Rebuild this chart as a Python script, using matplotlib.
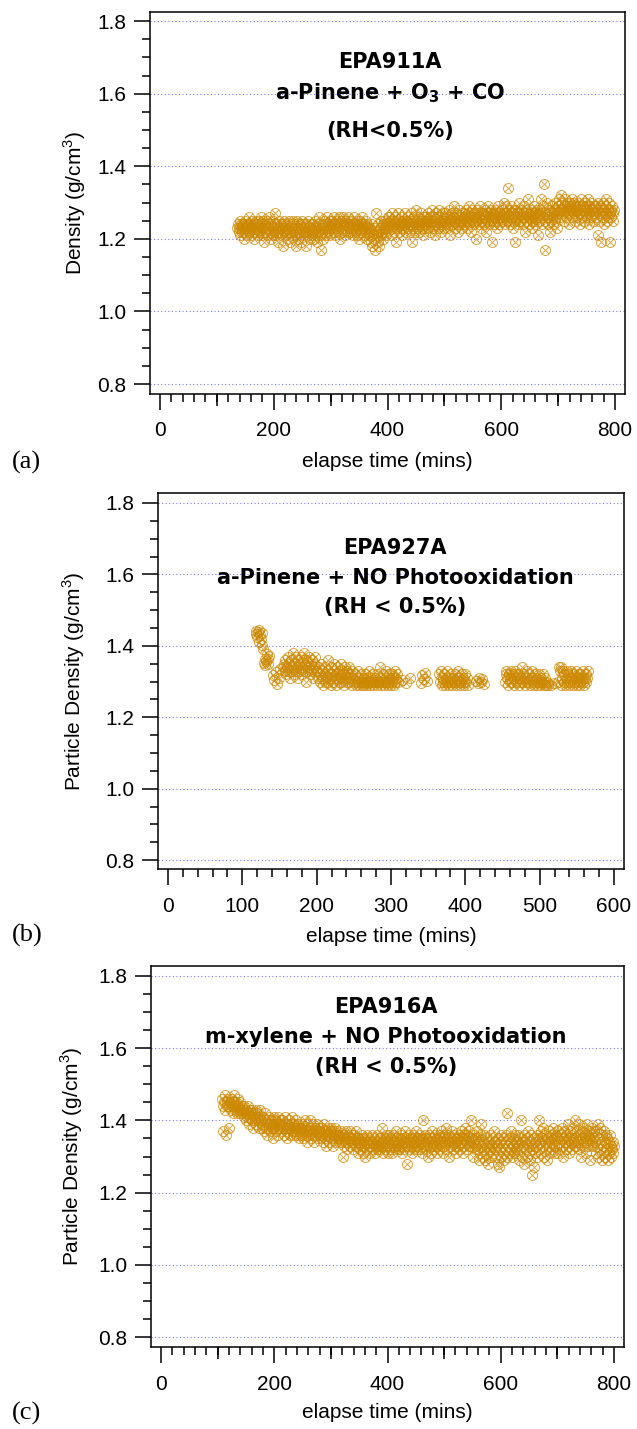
import numpy as np
import matplotlib.pyplot as plt
from matplotlib.path import Path
from matplotlib.ticker import MultipleLocator, FixedLocator, NullLocator, FormatStrFormatter

plt.rcParams['font.family'] = 'Liberation Sans'
plt.rcParams['mathtext.fontset'] = 'custom'
plt.rcParams['mathtext.rm'] = 'Liberation Sans'
plt.rcParams['mathtext.bf'] = 'DejaVu Sans:bold'

# ---- data ----
# (a) EPA911A, even sampling between first and last point
a_t0, a_t1 = 136, 798
a_density = [
    1.23, 1.24, 1.22, 1.23, 1.25, 1.21, 1.24, 1.23, 1.22, 1.24, 1.20, 1.23, 1.25, 1.22, 1.24, 1.23, 1.21, 1.24, 1.26, 1.22, 1.23, 1.24, 1.21, 1.25, 1.23, 1.22, 1.24, 1.20, 1.23, 1.25,
    1.22, 1.24, 1.23, 1.21, 1.25, 1.23, 1.22, 1.26, 1.24, 1.21, 1.23, 1.25, 1.22, 1.19, 1.24, 1.23, 1.22, 1.25, 1.21, 1.24, 1.23, 1.26, 1.22, 1.20, 1.24, 1.23, 1.21, 1.25, 1.22, 1.24,
    1.27, 1.23, 1.21, 1.24, 1.22, 1.19, 1.25, 1.23, 1.22, 1.24, 1.21, 1.23, 1.18, 1.24, 1.22, 1.25, 1.23, 1.21, 1.24, 1.22, 1.20, 1.23, 1.25, 1.22, 1.19, 1.24, 1.23, 1.21, 1.25, 1.22,
    1.23, 1.21, 1.24, 1.18, 1.22, 1.25, 1.23, 1.20, 1.22, 1.24, 1.21, 1.23, 1.19, 1.25, 1.22, 1.24, 1.21, 1.23, 1.22, 1.18, 1.24, 1.22, 1.25, 1.21, 1.23, 1.20, 1.24, 1.22, 1.23, 1.21,
    1.24, 1.22, 1.20, 1.23, 1.25, 1.21, 1.23, 1.19, 1.24, 1.22, 1.26, 1.23, 1.21, 1.17, 1.24, 1.22, 1.23, 1.20, 1.25, 1.22, 1.24, 1.21, 1.23, 1.26, 1.22, 1.24, 1.23, 1.21, 1.25, 1.24,
    1.25, 1.23, 1.24, 1.22, 1.26, 1.24, 1.21, 1.23, 1.25, 1.24, 1.22, 1.26, 1.23, 1.20, 1.24, 1.25, 1.23, 1.22, 1.26, 1.24, 1.23, 1.21, 1.25, 1.24, 1.22, 1.24, 1.26, 1.23, 1.25, 1.22,
    1.24, 1.22, 1.25, 1.23, 1.21, 1.24, 1.26, 1.23, 1.22, 1.24, 1.25, 1.21, 1.23, 1.24, 1.20, 1.25, 1.23, 1.22, 1.24, 1.26, 1.23, 1.21, 1.24, 1.22, 1.25, 1.23, 1.24, 1.20, 1.23, 1.22,
    1.21, 1.23, 1.19, 1.22, 1.18, 1.24, 1.21, 1.20, 1.23, 1.17, 1.22, 1.27, 1.21, 1.19, 1.24, 1.22, 1.18, 1.23, 1.25, 1.21, 1.22, 1.24, 1.20, 1.23, 1.25, 1.22, 1.24, 1.21, 1.23, 1.26,
    1.24, 1.26, 1.23, 1.25, 1.21, 1.24, 1.27, 1.23, 1.25, 1.22, 1.24, 1.26, 1.19, 1.25, 1.23, 1.24, 1.27, 1.22, 1.25, 1.24, 1.23, 1.26, 1.21, 1.24, 1.25, 1.23, 1.27, 1.24, 1.22, 1.25,
    1.25, 1.23, 1.26, 1.24, 1.22, 1.25, 1.27, 1.24, 1.19, 1.25, 1.23, 1.26, 1.24, 1.22, 1.25, 1.28, 1.23, 1.24, 1.26, 1.22, 1.25, 1.24, 1.27, 1.23, 1.25, 1.21, 1.24, 1.26, 1.25, 1.23,
    1.26, 1.24, 1.25, 1.23, 1.27, 1.25, 1.22, 1.26, 1.24, 1.28, 1.25, 1.23, 1.26, 1.24, 1.21, 1.25, 1.27, 1.24, 1.26, 1.23, 1.25, 1.28, 1.24, 1.26, 1.22, 1.25, 1.24, 1.27, 1.25, 1.23,
    1.25, 1.27, 1.24, 1.26, 1.23, 1.25, 1.28, 1.24, 1.26, 1.21, 1.25, 1.27, 1.24, 1.26, 1.25, 1.29, 1.23, 1.25, 1.27, 1.24, 1.26, 1.22, 1.25, 1.28, 1.24, 1.26, 1.25, 1.23, 1.27, 1.25,
    1.26, 1.24, 1.27, 1.25, 1.28, 1.23, 1.26, 1.25, 1.29, 1.24, 1.26, 1.27, 1.22, 1.25, 1.28, 1.26, 1.24, 1.27, 1.25, 1.20, 1.26, 1.28, 1.25, 1.27, 1.24, 1.26, 1.29, 1.25, 1.23, 1.27,
    1.25, 1.27, 1.26, 1.24, 1.28, 1.26, 1.22, 1.27, 1.25, 1.29, 1.26, 1.24, 1.27, 1.25, 1.28, 1.19, 1.26, 1.27, 1.25, 1.24, 1.28, 1.26, 1.27, 1.23, 1.25, 1.29, 1.26, 1.24, 1.27, 1.26,
    1.26, 1.28, 1.25, 1.27, 1.30, 1.26, 1.24, 1.27, 1.29, 1.25, 1.34, 1.26, 1.28, 1.24, 1.27, 1.25, 1.29, 1.26, 1.23, 1.27, 1.28, 1.19, 1.26, 1.25, 1.28, 1.27, 1.24, 1.26, 1.30, 1.25,
    1.27, 1.25, 1.28, 1.26, 1.24, 1.27, 1.29, 1.26, 1.22, 1.27, 1.25, 1.28, 1.26, 1.31, 1.24, 1.27, 1.26, 1.28, 1.25, 1.23, 1.27, 1.26, 1.29, 1.25, 1.27, 1.24, 1.28, 1.26, 1.21, 1.27,
    1.26, 1.28, 1.25, 1.31, 1.27, 1.24, 1.26, 1.29, 1.35, 1.25, 1.17, 1.27, 1.26, 1.30, 1.24, 1.28, 1.26, 1.22, 1.27, 1.25, 1.29, 1.26, 1.24, 1.28, 1.27, 1.25, 1.30, 1.26, 1.23, 1.28,
    1.29, 1.27, 1.31, 1.28, 1.26, 1.32, 1.28, 1.30, 1.27, 1.25, 1.29, 1.31, 1.28, 1.26, 1.30, 1.27, 1.29, 1.24, 1.28, 1.30, 1.27, 1.29, 1.26, 1.31, 1.28, 1.27, 1.30, 1.25, 1.28, 1.29,
    1.28, 1.26, 1.30, 1.27, 1.29, 1.24, 1.28, 1.31, 1.27, 1.26, 1.29, 1.28, 1.25, 1.30, 1.27, 1.29, 1.26, 1.28, 1.31, 1.27, 1.24, 1.29, 1.28, 1.26, 1.30, 1.27, 1.28, 1.25, 1.29, 1.27,
    1.29, 1.26, 1.28, 1.21, 1.30, 1.27, 1.25, 1.29, 1.28, 1.19, 1.27, 1.30, 1.26, 1.28, 1.24, 1.29, 1.31, 1.27, 1.25, 1.28, 1.26, 1.30, 1.27, 1.19, 1.28, 1.26, 1.29, 1.27, 1.25, 1.28,
]

# (b) EPA927A, measured in separate bursts
b_start = [118, 128, 141, 155, 201, 251, 315, 340, 365, 415, 453, 515, 525]
b_end = [127, 136, 151, 199, 249, 309, 326, 348, 403, 425, 511, 519, 565]
b_density = [
    [1.432, 1.441, 1.425, 1.438, 1.412, 1.444, 1.429, 1.418, 1.435, 1.402],
    [1.391, 1.352, 1.364, 1.345, 1.357, 1.378, 1.349, 1.362, 1.371],
    [1.318, 1.305, 1.327, 1.292, 1.311, 1.334],
    [1.34, 1.35, 1.33, 1.36, 1.32, 1.34, 1.37, 1.33, 1.35, 1.31, 1.34, 1.36, 1.33, 1.38, 1.34, 1.32, 1.35, 1.37, 1.33, 1.34, 1.36, 1.31, 1.35,
     1.33, 1.37, 1.34, 1.32, 1.36, 1.38, 1.33, 1.35, 1.34, 1.30, 1.36, 1.33, 1.37, 1.34, 1.32, 1.35, 1.36, 1.33, 1.31, 1.35, 1.34, 1.37, 1.33],
    [1.33, 1.31, 1.34, 1.30, 1.32, 1.35, 1.31, 1.29, 1.33, 1.32, 1.30, 1.34, 1.31, 1.33, 1.36, 1.30, 1.32, 1.31, 1.34, 1.29, 1.32, 1.33, 1.30, 1.35, 1.31,
     1.32, 1.29, 1.34, 1.31, 1.33, 1.30, 1.32, 1.35, 1.31, 1.30, 1.33, 1.32, 1.29, 1.34, 1.31, 1.33, 1.30, 1.32, 1.31, 1.34, 1.30, 1.32, 1.33, 1.29, 1.31],
    [1.30, 1.32, 1.29, 1.31, 1.30, 1.33, 1.29, 1.31, 1.30, 1.32, 1.29, 1.30, 1.31, 1.29, 1.32, 1.30, 1.31, 1.29, 1.30, 1.33, 1.30, 1.29, 1.31, 1.30, 1.32, 1.29, 1.30, 1.31, 1.30,
     1.29, 1.32, 1.30, 1.31, 1.34, 1.30, 1.29, 1.31, 1.30, 1.32, 1.29, 1.30, 1.33, 1.31, 1.30, 1.29, 1.32, 1.30, 1.31, 1.29, 1.30, 1.32, 1.31, 1.29, 1.33, 1.30, 1.31, 1.32, 1.30],
    [1.304, 1.297, 1.311],
    [1.296, 1.318, 1.307, 1.325, 1.302],
    [1.32, 1.30, 1.33, 1.29, 1.31, 1.30, 1.32, 1.29, 1.31, 1.30, 1.33, 1.30, 1.29, 1.31, 1.30, 1.32, 1.29, 1.31,
     1.30, 1.32, 1.30, 1.29, 1.31, 1.33, 1.30, 1.31, 1.29, 1.30, 1.32, 1.31, 1.29, 1.30, 1.32, 1.30, 1.31, 1.29],
    [1.302, 1.295, 1.309, 1.298, 1.306, 1.293],
    [1.30, 1.32, 1.33, 1.31, 1.29, 1.32, 1.30, 1.31, 1.33, 1.30, 1.32, 1.29, 1.31, 1.33, 1.30, 1.32, 1.31, 1.29, 1.32, 1.30, 1.31, 1.34, 1.30, 1.32, 1.31, 1.29, 1.30,
     1.33, 1.31, 1.30, 1.32, 1.29, 1.31, 1.33, 1.30, 1.31, 1.29, 1.32, 1.30, 1.31, 1.29, 1.30, 1.32, 1.30, 1.29, 1.31, 1.30, 1.32, 1.29, 1.30, 1.31, 1.29, 1.30, 1.29],
    [1.291, 1.297],
    [1.30, 1.34, 1.33, 1.34, 1.29, 1.31, 1.33, 1.30, 1.32, 1.29, 1.31, 1.33, 1.30, 1.32, 1.29, 1.31, 1.30, 1.33, 1.31, 1.29,
     1.32, 1.30, 1.31, 1.33, 1.29, 1.30, 1.32, 1.31, 1.29, 1.30, 1.32, 1.31, 1.30, 1.33, 1.29, 1.31, 1.32, 1.30, 1.31, 1.33],
]

# (c) EPA916A
c_t0, c_t1 = 108, 800
c_density = [
    1.46, 1.44, 1.37, 1.45, 1.47, 1.43, 1.36, 1.45, 1.44, 1.46, 1.38, 1.44, 1.45, 1.43, 1.46, 1.44, 1.42, 1.45, 1.47, 1.43, 1.44, 1.45, 1.42, 1.44, 1.46, 1.43, 1.44, 1.42, 1.45, 1.43,
    1.44, 1.42, 1.43, 1.41, 1.44, 1.42, 1.40, 1.43, 1.41, 1.44, 1.42, 1.39, 1.43, 1.41, 1.42, 1.40, 1.43, 1.38, 1.41, 1.42, 1.40, 1.43, 1.39, 1.41, 1.42, 1.40, 1.38, 1.41, 1.43, 1.40,
    1.40, 1.38, 1.41, 1.39, 1.37, 1.40, 1.42, 1.38, 1.39, 1.36, 1.40, 1.38, 1.41, 1.39, 1.37, 1.40, 1.38, 1.35, 1.39, 1.41, 1.38, 1.40, 1.37, 1.39, 1.38, 1.41, 1.36, 1.39, 1.40, 1.38,
    1.39, 1.37, 1.40, 1.38, 1.36, 1.39, 1.41, 1.37, 1.38, 1.35, 1.39, 1.38, 1.40, 1.36, 1.38, 1.39, 1.37, 1.41, 1.38, 1.36, 1.39, 1.37, 1.38, 1.40, 1.36, 1.38, 1.39, 1.37, 1.35, 1.38,
    1.38, 1.36, 1.39, 1.37, 1.35, 1.38, 1.40, 1.36, 1.37, 1.39, 1.34, 1.37, 1.38, 1.36, 1.40, 1.37, 1.35, 1.38, 1.36, 1.39, 1.37, 1.34, 1.38, 1.36, 1.37, 1.39, 1.35, 1.37, 1.38, 1.36,
    1.37, 1.35, 1.38, 1.36, 1.34, 1.37, 1.39, 1.35, 1.36, 1.33, 1.37, 1.36, 1.38, 1.34, 1.36, 1.37, 1.35, 1.38, 1.36, 1.33, 1.37, 1.35, 1.36, 1.38, 1.34, 1.36, 1.37, 1.35, 1.36, 1.34,
    1.35, 1.37, 1.34, 1.36, 1.30, 1.35, 1.33, 1.36, 1.34, 1.37, 1.35, 1.32, 1.36, 1.34, 1.35, 1.33, 1.37, 1.34, 1.36, 1.35, 1.32, 1.34, 1.36, 1.33, 1.35, 1.37, 1.34, 1.31, 1.35, 1.34,
    1.34, 1.32, 1.35, 1.33, 1.36, 1.31, 1.34, 1.33, 1.35, 1.30, 1.34, 1.36, 1.32, 1.34, 1.33, 1.35, 1.31, 1.34, 1.33, 1.36, 1.32, 1.34, 1.35, 1.31, 1.33, 1.34, 1.36, 1.32, 1.33, 1.35,
    1.33, 1.35, 1.32, 1.34, 1.38, 1.33, 1.31, 1.35, 1.34, 1.32, 1.36, 1.33, 1.35, 1.31, 1.34, 1.36, 1.32, 1.33, 1.35, 1.34, 1.31, 1.36, 1.33, 1.34, 1.32, 1.35, 1.37, 1.33, 1.34, 1.32,
    1.34, 1.32, 1.35, 1.33, 1.36, 1.31, 1.34, 1.35, 1.32, 1.37, 1.33, 1.34, 1.28, 1.35, 1.33, 1.36, 1.32, 1.34, 1.33, 1.35, 1.31, 1.36, 1.34, 1.32, 1.35, 1.33, 1.37, 1.34, 1.32, 1.35,
    1.33, 1.35, 1.32, 1.36, 1.34, 1.31, 1.35, 1.40, 1.33, 1.34, 1.36, 1.32, 1.35, 1.33, 1.30, 1.34, 1.36, 1.33, 1.35, 1.31, 1.34, 1.37, 1.33, 1.35, 1.32, 1.34, 1.36, 1.33, 1.31, 1.35,
    1.34, 1.36, 1.32, 1.35, 1.33, 1.37, 1.34, 1.31, 1.35, 1.36, 1.33, 1.34, 1.38, 1.32, 1.35, 1.34, 1.36, 1.30, 1.34, 1.35, 1.33, 1.37, 1.34, 1.32, 1.35, 1.36, 1.33, 1.34, 1.31, 1.35,
    1.35, 1.33, 1.36, 1.34, 1.32, 1.37, 1.35, 1.34, 1.31, 1.36, 1.33, 1.35, 1.38, 1.34, 1.32, 1.36, 1.35, 1.33, 1.37, 1.34, 1.40, 1.33, 1.35, 1.30, 1.36, 1.34, 1.32, 1.35, 1.33, 1.37,
    1.32, 1.35, 1.29, 1.34, 1.31, 1.36, 1.39, 1.33, 1.30, 1.34, 1.32, 1.36, 1.29, 1.33, 1.35, 1.31, 1.34, 1.28, 1.33, 1.36, 1.32, 1.30, 1.35, 1.33, 1.31, 1.34, 1.37, 1.32, 1.30, 1.34,
    1.33, 1.28, 1.35, 1.27, 1.32, 1.34, 1.30, 1.36, 1.33, 1.31, 1.35, 1.29, 1.34, 1.32, 1.36, 1.30, 1.42, 1.33, 1.35, 1.31, 1.34, 1.32, 1.37, 1.30, 1.33, 1.35, 1.31, 1.34, 1.36, 1.32,
    1.34, 1.31, 1.36, 1.33, 1.29, 1.35, 1.32, 1.40, 1.34, 1.30, 1.33, 1.36, 1.28, 1.34, 1.32, 1.35, 1.30, 1.37, 1.33, 1.31, 1.34, 1.29, 1.36, 1.33, 1.25, 1.32, 1.35, 1.27, 1.34, 1.31,
    1.33, 1.36, 1.30, 1.35, 1.40, 1.32, 1.34, 1.37, 1.31, 1.35, 1.33, 1.38, 1.30, 1.34, 1.36, 1.32, 1.35, 1.29, 1.34, 1.37, 1.33, 1.31, 1.35, 1.34, 1.36, 1.32, 1.38, 1.33, 1.35, 1.31,
    1.36, 1.33, 1.35, 1.31, 1.37, 1.34, 1.32, 1.36, 1.35, 1.38, 1.33, 1.30, 1.35, 1.37, 1.34, 1.32, 1.36, 1.34, 1.39, 1.33, 1.35, 1.31, 1.37, 1.34, 1.36, 1.32, 1.35, 1.38, 1.34, 1.33,
    1.40, 1.35, 1.33, 1.37, 1.34, 1.39, 1.32, 1.36, 1.35, 1.30, 1.37, 1.34, 1.38, 1.33, 1.36, 1.35, 1.31, 1.39, 1.34, 1.36, 1.33, 1.37, 1.35, 1.29, 1.36, 1.34, 1.38, 1.33, 1.35, 1.37,
    1.34, 1.31, 1.37, 1.33, 1.39, 1.30, 1.35, 1.32, 1.38, 1.34, 1.29, 1.36, 1.33, 1.31, 1.37, 1.34, 1.30, 1.36, 1.32, 1.35, 1.29, 1.34, 1.31, 1.36, 1.33, 1.30, 1.32, 1.34, 1.31, 1.33,
]

a_title = ['EPA911A', r'a-Pinene + O$_\mathbf{3}$ + CO', '(RH<0.5%)']
b_title = ['EPA927A', 'a-Pinene + NO Photooxidation', '(RH < 0.5%)']
c_title = ['EPA916A', 'm-xylene + NO Photooxidation', '(RH < 0.5%)']

a_time = np.linspace(a_t0, a_t1, len(a_density))
c_time = np.linspace(c_t0, c_t1, len(c_density))
b_time = np.concatenate([np.linspace(s, e, len(d)) for s, e, d in zip(b_start, b_end, b_density)])
b_dens = np.concatenate(b_density)

# ---- style ----
mark_col = '#cc8800'
grid_col = '#7a7aff'
circle_x = Path.make_compound_path(Path.unit_circle(),
                                   Path([[-0.71, -0.71], [0.71, 0.71]]),
                                   Path([[-0.71, 0.71], [0.71, -0.71]]))

W, H = 637, 1429
fig = plt.figure(figsize=(W / 100, H / 100), dpi=100)


def make_axes(left, top, right, bottom):
    return fig.add_axes([left / W, 1 - bottom / H, (right - left) / W, (bottom - top) / H])


def style(ax, xlim, ylim, xmajor, xmedium):
    ax.set_xlim(*xlim)
    ax.set_ylim(*ylim)
    ax.xaxis.set_major_locator(MultipleLocator(xmajor))
    ax.xaxis.set_minor_locator(MultipleLocator(20))
    ax.yaxis.set_major_locator(MultipleLocator(0.2))
    ax.yaxis.set_minor_locator(MultipleLocator(0.05))
    ax.yaxis.set_major_formatter(FormatStrFormatter('%.1f'))
    ax.tick_params(which='major', direction='out', length=11.3, width=1.1, labelsize=15)
    ax.tick_params(which='minor', direction='out', length=5.8, width=1.1)
    ax.tick_params(axis='x', which='major', pad=8.5)
    ax.tick_params(axis='y', which='major', pad=5.8)
    for s in ax.spines.values():
        s.set_linewidth(1.1)
    ax.set_axisbelow(True)
    ax.grid(axis='y', which='major', color=grid_col, ls=(0, (1, 2.2)), lw=0.8)
    if xmedium:
        sec = ax.secondary_xaxis('bottom')
        sec.spines['bottom'].set_visible(False)
        sec.xaxis.set_major_locator(FixedLocator(xmedium))
        sec.xaxis.set_minor_locator(NullLocator())
        sec.tick_params(length=8.6, width=1.1, labelbottom=False)


def draw(ax, t, d, title, tx, tys, ylabel, ylx, xly):
    ax.plot(t, d, ls='none', marker=circle_x, ms=7.2, mfc='none', mec=mark_col, mew=0.75, alpha=0.7)
    for s, ty in zip(title, tys):
        ax.text(tx, ty, s, transform=ax.transAxes, ha='center', va='baseline',
                fontsize=15, fontweight='bold', family='DejaVu Sans')
    ax.set_ylabel(ylabel, fontsize=15)
    ax.yaxis.set_label_coords(ylx, 0.5)
    ax.set_xlabel('elapse time (mins)', fontsize=15)
    ax.xaxis.set_label_coords(0.5, xly)


ax_a = make_axes(150, 12, 625, 394)
style(ax_a, (-17.5, 817.5), (0.7725, 1.825), 200, [100, 300, 500, 700])
draw(ax_a, a_time, a_density, a_title, 0.505, [0.853, 0.770, 0.673],
     r'Density (g/cm$^3$)', -0.1305, -0.152)

ax_b = make_axes(158, 493, 624, 869)
style(ax_b, (-13.5, 613.5), (0.775, 1.828), 100, None)
draw(ax_b, b_time, b_dens, b_title, 0.509, [0.838, 0.758, 0.681],
     r'Particle Density (g/cm$^3$)', -0.153, -0.154)

ax_c = make_axes(151, 966, 624, 1347)
style(ax_c, (-17.7, 817.7), (0.7723, 1.8277), 200, [100, 300, 500, 700])
draw(ax_c, c_time, c_density, c_title, 0.497, [0.877, 0.798, 0.719],
     r'Particle Density (g/cm$^3$)', -0.1395, -0.147)

for lab, yc in zip(['(a)', '(b)', '(c)'], [462, 935, 1413]):
    fig.text(12 / W, 1 - yc / H, lab, family='Liberation Serif', fontsize=19, va='center', ha='left')

fig.savefig('out.png', dpi=100)
